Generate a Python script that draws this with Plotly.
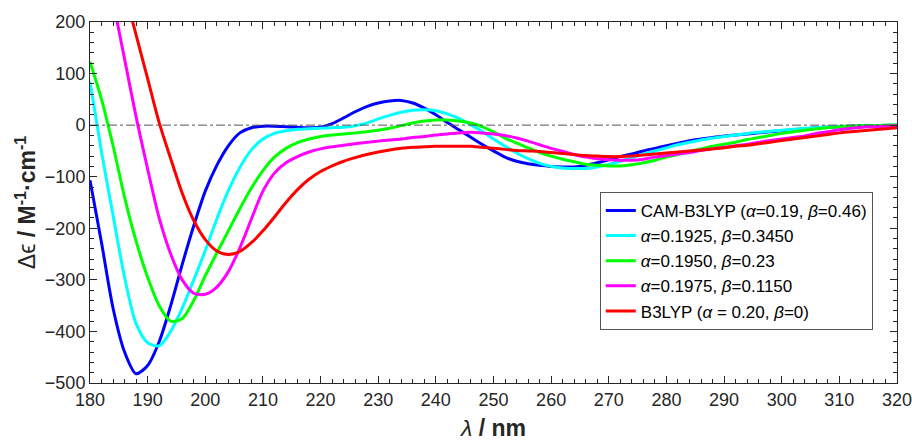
import plotly.graph_objects as go

wavelength = list(range(180, 322, 2))

cam_b3lyp = [-107, -228, -355, -440, -482, -466, -420, -350, -270, -195,
             -128, -78, -40, -15, -5, -2, -2, -3, -4, -5,
             -4, 3, 14, 26, 36, 43, 47, 48, 43, 33,
             20, 5, -9, -23, -37, -50, -62, -70, -75, -78,
             -80, -81, -81, -78, -73, -67, -61, -56, -50, -45,
             -40, -35, -30, -27, -24, -21, -19, -17, -15, -13,
             -11, -9, -7, -5, -4, -3, -2, -1, -1, -0.5, 0]

a1925 = [84, -52, -175, -295, -385, -422, -428, -400, -355, -300,
         -243, -182, -127, -82, -48, -27, -16, -11, -8, -7,
         -6, -5, -4, -1, 4, 12, 19, 25, 29, 30,
         28, 22, 13, 1, -12, -27, -41, -54, -65, -74,
         -80, -83, -84, -84, -81, -76, -70, -63, -56, -50,
         -44, -38, -33, -29, -25, -22, -19, -16, -14, -12,
         -10, -8, -6, -5, -3, -2, -2, -1, -1, 0, 0]

a1950 = [123, 50, -40, -140, -225, -295, -350, -380, -375, -340,
         -292, -248, -205, -162, -122, -88, -62, -45, -34, -27,
         -22, -19, -17, -15, -13, -10, -6, -1, 4, 8,
         10, 10, 8, 4, -3, -13, -25, -35, -44, -53,
         -60, -66, -71, -76, -78, -79, -79, -77, -73, -68,
         -62, -57, -51, -46, -41, -37, -33, -28, -24, -20,
         -16, -13, -10, -7, -5, -3, -2, -1, -1, 0, 0]

a1975 = [450, 350, 240, 128, 16, -85, -180, -250, -300, -326,
         -328, -314, -284, -238, -182, -128, -93, -73, -61, -52,
         -46, -42, -39, -36, -33, -31, -29, -27, -24, -22,
         -19, -17, -15, -14, -15, -17, -20, -25, -31, -38,
         -45, -51, -57, -62, -65, -67, -68, -68, -66, -62,
         -59, -56, -53, -49, -46, -43, -40, -37, -33, -30,
         -27, -24, -21, -16, -13, -9, -6, -4, -3, -2, -1]

b3lyp = [520, 440, 350, 260, 175, 90, 5, -65, -132, -185,
         -222, -244, -251, -245, -228, -205, -178, -150, -125, -105,
         -90, -79, -70, -63, -57, -52, -48, -45, -43, -42,
         -41, -41, -41, -41, -43, -45, -47, -49, -50, -51,
         -53, -55, -57, -59, -60, -61, -61, -60, -58, -56,
         -54, -52, -50, -48, -46, -44, -41, -39, -36, -33,
         -30, -27, -24, -21, -18, -15, -13, -11, -9, -7, -5]

series_names = [
    "CAM-B3LYP (<i>α</i>=0.19, <i>β</i>=0.46)",
    "<i>α</i>=0.1925, <i>β</i>=0.3450",
    "<i>α</i>=0.1950, <i>β</i>=0.23",
    "<i>α</i>=0.1975, <i>β</i>=0.1150",
    "B3LYP (<i>α</i> = 0.20, <i>β</i>=0)",
]
series_values = [cam_b3lyp, a1925, a1950, a1975, b3lyp]
series_colors = ["#0000ff", "#00ffff", "#00ff00", "#ff00ff", "#ff0000"]

zero_x = [180, 320]
zero_y = [0, 0]

fig = go.Figure()
for name, vals, col in zip(series_names, series_values, series_colors):
    fig.add_trace(go.Scatter(x=wavelength, y=vals, mode="lines", name=name,
                             line=dict(color=col, width=3, shape="spline", smoothing=0.8)))
fig.add_trace(go.Scatter(x=zero_x, y=zero_y, mode="lines", showlegend=False,
                         line=dict(color="#555555", width=1, dash="dashdot"),
                         hoverinfo="skip"))

axis_common = dict(
    showline=True, linecolor="#262626", linewidth=1, mirror="ticks",
    ticks="inside", ticklen=7, tickcolor="#262626", tickwidth=1,
    showgrid=False, zeroline=False, ticklabeloverflow="allow",
    tickfont=dict(family="Liberation Sans, Arial, sans-serif", size=18, color="#262626"),
)

fig.update_layout(
    width=912, height=441,
    margin=dict(l=90, r=15, t=22, b=58),
    paper_bgcolor="white", plot_bgcolor="white",
    font=dict(family="Liberation Sans, Arial, sans-serif", color="#262626"),
    xaxis=dict(range=[180, 320], tickvals=list(range(180, 330, 10)), automargin=False,
               minor=dict(dtick=2, tick0=180, ticks="inside", ticklen=4, tickcolor="#262626", showgrid=False),
               title=dict(text="<i>λ</i> <b>/ nm</b>", font=dict(size=23), standoff=11),
               **axis_common),
    yaxis=dict(range=[-500, 200], dtick=100, tick0=0, automargin=False,
               minor=dict(dtick=20, ticks="inside", ticklen=4, tickcolor="#262626", showgrid=False),
               title=dict(text="Δϵ <b>/ M<sup>-1</sup>·cm<sup>-1</sup></b>", font=dict(size=23), standoff=2),
               **axis_common),
    legend=dict(x=0.970, y=0.147, xanchor="right", yanchor="bottom",
                bgcolor="white", bordercolor="#555555", borderwidth=1,
                font=dict(size=17, color="#000000"), tracegroupgap=0,
                itemwidth=30),
    showlegend=True,
)

fig.write_html("out.html")
